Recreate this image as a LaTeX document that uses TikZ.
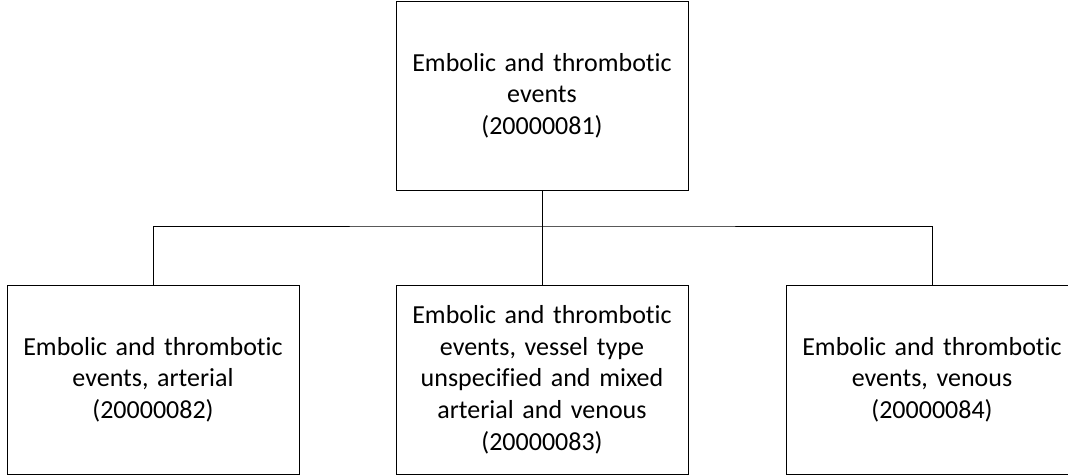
\documentclass[tikz,border=0pt]{standalone}
\usepackage{fontspec}
\setmainfont[Ligatures=NoCommon]{Carlito}
\begin{document}
\begin{tikzpicture}[x=1pt,y=-1pt,
  box/.style={draw=black,line width=1pt,minimum width=292pt,align=center,
    font=\fontsize{26}{31.7}\selectfont,inner sep=0pt,text width=284pt},
  link/.style={draw=black,line width=1pt}]
\useasboundingbox (0,0) rectangle (1068,474);
\clip (0,0) rectangle (1068,474);
\node[box,minimum height=189pt] (top) at (542,95.5) {Embolic and thrombotic\\events\\(20000081)};
\node[box,minimum height=189pt] (left) at (153,379.5) {Embolic and thrombotic\\events, arterial\\(20000082)};
\node[box,minimum height=189pt] (mid) at (542,379.5) {Embolic and thrombotic\\events, vessel type\\unspecified and mixed\\arterial and venous\\(20000083)};
\node[box,minimum height=189pt] (right) at (932,379.5) {Embolic and thrombotic\\events, venous\\(20000084)};
\coordinate (bus) at (542,226);
\draw[link] (top.south) -- (bus);
\draw[link] (left.north) |- (bus) -| (right.north);
\draw[link] (bus) -- (mid.north);
\end{tikzpicture}
\end{document}
